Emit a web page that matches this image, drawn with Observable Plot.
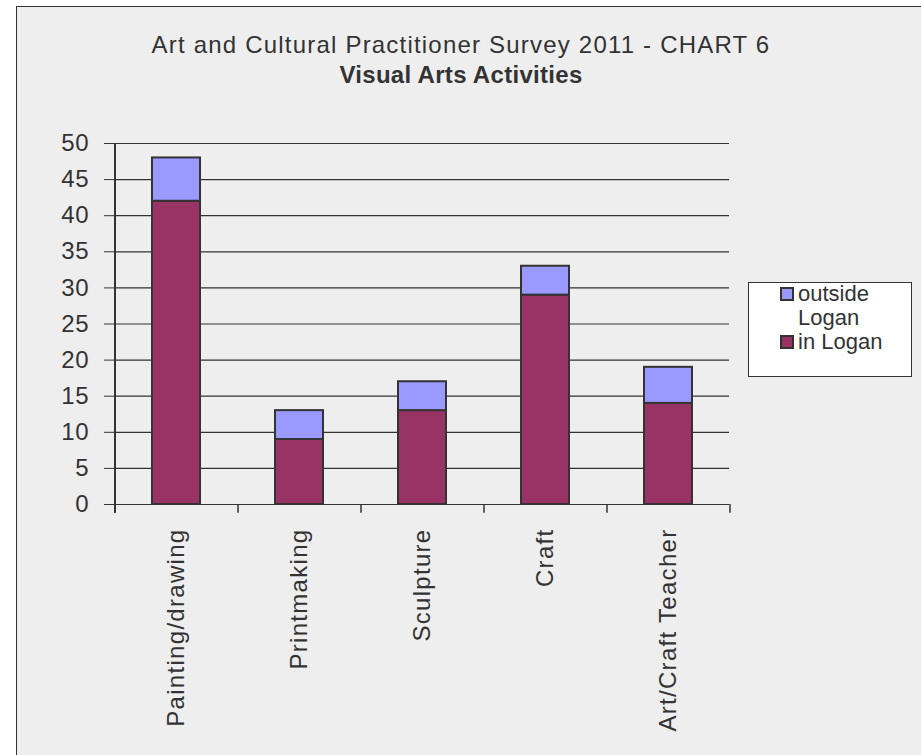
<!DOCTYPE html>
<html>
<head>
<meta charset="utf-8">
<script src="https://cdn.jsdelivr.net/npm/d3@7"></script>
<script src="https://cdn.jsdelivr.net/npm/@observablehq/plot@0.6"></script>
<style>
  html, body { margin: 0; padding: 0; background: #ffffff; }
  #page { position: relative; width: 921px; height: 755px; overflow: hidden; font-family: "Liberation Sans", Arial, sans-serif; color: #333; }
  #frame { position: absolute; left: 16px; top: 6px; width: 950px; height: 800px; background: #eeeeee; border-left: 1.5px solid #333; border-top: 1.5px solid #333; }
  .title { position: absolute; left: 0; width: 922px; text-align: center; font-size: 24px; line-height: 24px; white-space: nowrap; }
  #t1 { top: 33px; letter-spacing: 1.2px; }
  #t2 { top: 63px; font-weight: bold; letter-spacing: 0.3px; }
  #chart { position: absolute; left: 0; top: 0; }
  #legend { position: absolute; left: 748px; top: 282px; width: 162px; height: 93px; background: #fff; border: 1.5px solid #333; box-sizing: content-box; }
  .item { position: absolute; left: 31px; display: flex; align-items: flex-start; font-size: 22px; line-height: 24px; }
  .sw { width: 10px; height: 10px; border: 2px solid #333; margin-top: 5px; margin-right: 4px; flex: none; }
  .lt { width: 92px; }
  .chart [aria-label="x-axis tick label"] text { letter-spacing: 1.3px; }
  .chart [aria-label="y-axis tick label"] text { letter-spacing: 0.8px; }
</style>
</head>
<body>
<div id="page">
  <div id="frame"></div>
  <div class="title" id="t1">Art and Cultural Practitioner Survey 2011 - CHART 6</div>
  <div class="title" id="t2">Visual Arts Activities</div>
  <div id="chart"></div>
  <div id="legend"></div>
</div>
<script>
// ---- data ----
const categories = ["Painting/drawing", "Printmaking", "Sculpture", "Craft", "Art/Craft Teacher"];
const inLogan = [42, 9, 13, 29, 14];
const outsideLogan = [6, 4, 4, 4, 5];
const seriesNames = ["in Logan", "outside Logan"];
const seriesColors = ["#993366", "#9999FF"];
const yTicks = [0, 5, 10, 15, 20, 25, 30, 35, 40, 45, 50];

const rows = [];
categories.forEach((c, i) => rows.push({category: c, series: seriesNames[0], value: inLogan[i]}));
categories.forEach((c, i) => rows.push({category: c, series: seriesNames[1], value: outsideLogan[i]}));

const W = 921, H = 755;
const mL = 114, mR = 192, mT = 143, mB = 251;
const step = (W - mL - mR) / categories.length;

const chart = Plot.plot({
  width: W, height: H,
  marginLeft: mL, marginRight: mR, marginTop: mT, marginBottom: mB,
  className: "chart",
  style: {background: "transparent", fontFamily: "'Liberation Sans', Arial, sans-serif", color: "#333", overflow: "visible"},
  x: {domain: categories, paddingInner: 0.61, paddingOuter: 0.305, align: 0.5, label: null},
  y: {domain: [0, 50], label: null},
  color: {domain: seriesNames, range: seriesColors},
  marks: [
    Plot.ruleY(yTicks, {stroke: "#333", strokeWidth: 1.2, strokeOpacity: 1}),
    Plot.axisY({ticks: yTicks, tickSize: 10, tickPadding: 15, fontSize: 24, label: null, stroke: "#333", strokeOpacity: 1, fill: "#333"}),
    Plot.ruleX(categories, {x: d => d, y1: -1.2, y2: 0, dx: -step / 2, stroke: "#333", strokeWidth: 1.5}),
    Plot.ruleX([categories[categories.length - 1]], {x: d => d, y1: -1.2, y2: 0, dx: step / 2, stroke: "#333", strokeWidth: 1.5}),
    Plot.ruleX([categories[0]], {x: d => d, y1: -1.2, y2: 50, dx: -step / 2, stroke: "#333", strokeWidth: 2}),
    Plot.barY(rows, {x: "category", y: "value", fill: "series", stroke: "#333", strokeWidth: 2}),
    Plot.axisX({tickSize: 0, tickPadding: 24, tickRotate: -90, fontSize: 24, label: null, fill: "#333"})
  ]
});
document.getElementById("chart").appendChild(chart);

// legend (outside Logan on top, as in the reference)
const legend = document.getElementById("legend");
const order = [1, 0];
const tops = [-1, 47];
order.forEach((k, j) => {
  const item = document.createElement("div");
  item.className = "item";
  item.style.top = tops[j] + "px";
  const sw = document.createElement("div");
  sw.className = "sw";
  sw.style.background = seriesColors[k];
  const lt = document.createElement("div");
  lt.className = "lt";
  lt.textContent = seriesNames[k];
  item.appendChild(sw);
  item.appendChild(lt);
  legend.appendChild(item);
});
</script>
</body>
</html>
